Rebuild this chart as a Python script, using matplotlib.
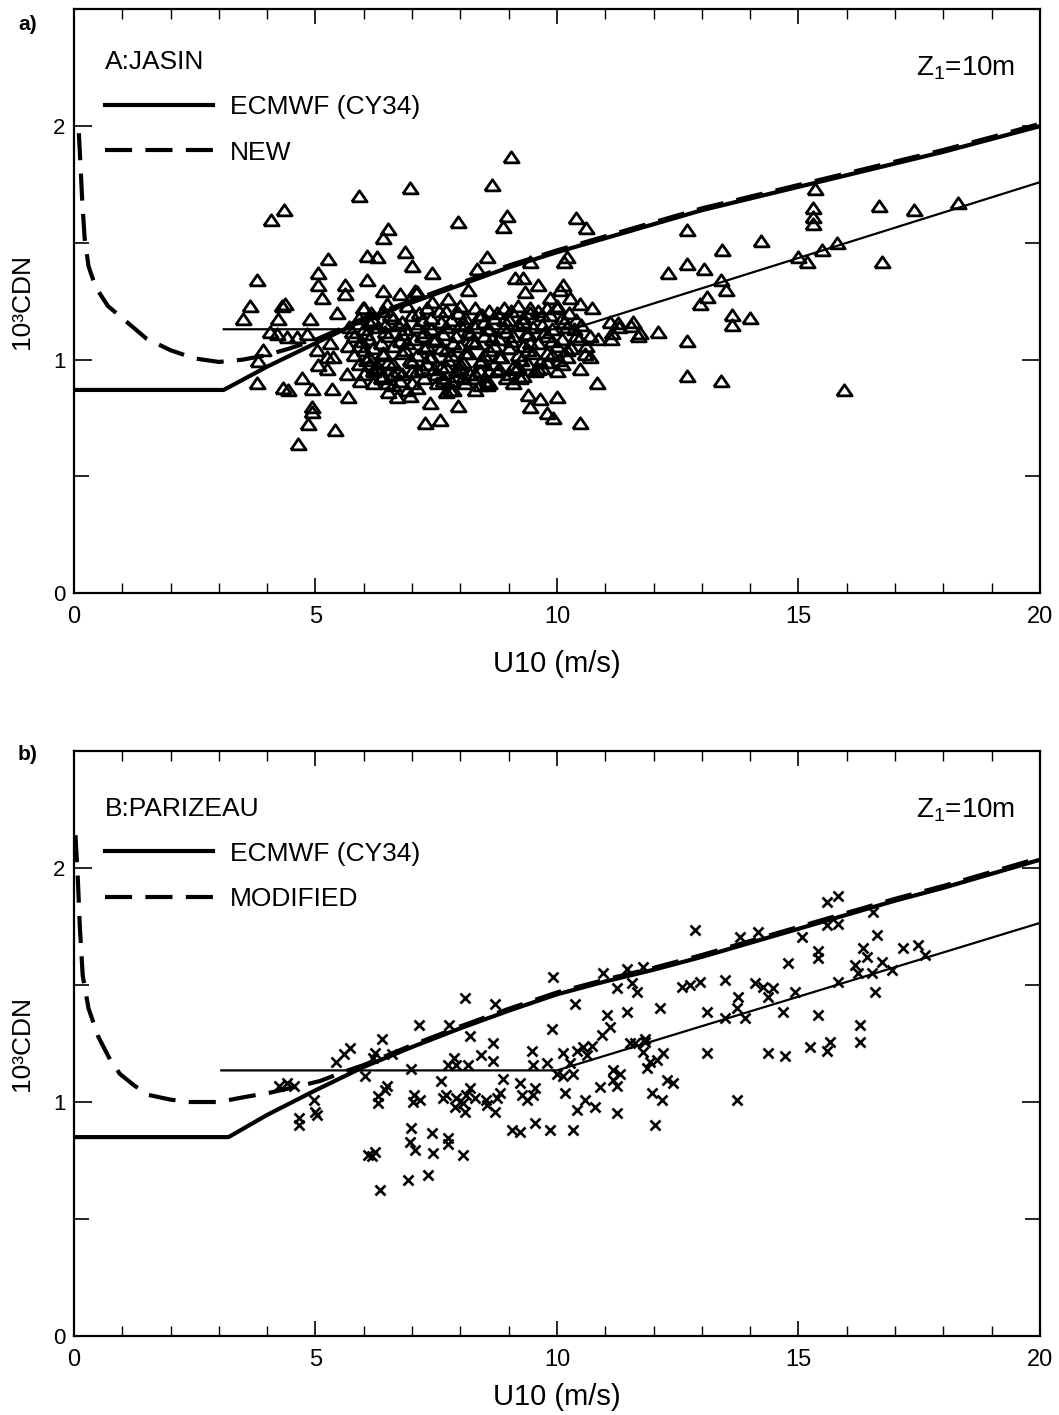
import matplotlib
matplotlib.use('Agg')
import matplotlib.pyplot as plt
from matplotlib.ticker import MultipleLocator, FixedLocator

plt.rcParams['font.family'] = ['Liberation Sans', 'DejaVu Sans']
plt.rcParams['mathtext.fontset'] = 'custom'
plt.rcParams['mathtext.rm'] = 'Liberation Sans'

# ---- panel a: JASIN ----
a_ecmwf_u = [0, 3.1, 4, 5, 6, 7, 8, 9, 10, 11, 12, 13, 14, 15, 16, 17, 18, 19, 20]
a_ecmwf_cd = [0.87, 0.87, 0.97, 1.07, 1.17, 1.245, 1.32, 1.395, 1.46, 1.52, 1.58,
              1.64, 1.69, 1.74, 1.79, 1.84, 1.89, 1.945, 2.0]
a_new_u = [0.1, 0.13, 0.17, 0.22, 0.3, 0.45, 0.7, 1.1, 1.5, 2.0, 2.5, 3.0, 3.5, 4.0,
           4.5, 5.0, 5.5, 6, 7, 8, 9, 10, 11, 12, 13, 14, 15, 16, 17, 18, 19, 20]
a_new_cd = [1.97, 1.85, 1.68, 1.52, 1.40, 1.31, 1.23, 1.16, 1.09, 1.04, 1.005, 0.99,
            1.0, 1.02, 1.05, 1.085, 1.13, 1.178, 1.253, 1.328, 1.403, 1.468, 1.528,
            1.588, 1.648, 1.698, 1.748, 1.798, 1.848, 1.898, 1.953, 2.01]
a_thin_u = [3.1, 10.3, 20]
a_thin_cd = [1.13, 1.13, 1.76]

a_obs_u = [
    4.08, 4.35, 5.9, 6.96, 7.95, 8.65, 9.04, 8.96, 8.88, 10.39, 10.6,
    6.5, 6.4, 5.26, 6.07, 6.27, 6.85, 7.0, 7.41, 3.79, 5.05, 5.05, 5.13, 5.61, 5.61,
    6.07, 6.4, 6.75, 7.06, 3.64, 4.31, 4.37, 4.22, 4.89, 5.44, 3.5, 4.06, 4.2, 4.41,
    4.62, 4.82, 5.03, 5.3, 5.24, 5.36, 5.67, 3.81, 3.91, 3.79, 4.33, 4.43, 4.72, 4.93,
    5.34, 5.67, 5.05, 5.24, 5.65, 4.93, 4.93, 4.84, 5.4, 4.64, 6.69, 6.96, 7.37, 7.27,
    6.48, 7.1, 7.52, 7.78, 5.92, 6.13, 7.64, 5.98, 6.48, 7.1, 7.41, 7.74,
    8.55, 8.34, 9.44, 10.2, 8.16, 12.3, 9.13, 9.3, 9.61, 9.34, 10.12, 10.06, 9.86,
    10.27, 10.48, 10.72, 9.44, 9.8, 10.0, 11.1, 11.26, 11.57, 11.14, 11.72, 12.09,
    10.85, 10.68, 10.58, 10.68, 10.48, 10.83, 9.69, 9.23, 8.26, 8.55, 7.85, 9.44,
    9.65, 10.0, 9.79, 9.92, 10.48, 7.58, 7.95, 9.4, 8.6, 10.14,
    12.69, 14.22, 13.42, 12.69, 13.04, 13.4, 13.5, 12.96, 13.1, 13.62, 13.62, 14.0,
    11.28, 11.53, 11.68, 11.12, 12.69, 12.69, 13.4, 15.94, 15.3, 15.3, 15.3, 15.34,
    16.67, 17.39, 18.3, 14.99, 15.18, 15.49, 15.8, 16.73,
    # dense cluster
    6.0, 6.4, 6.9, 7.3, 7.7, 8.0, 8.3, 8.6, 8.9, 9.2, 9.6, 10.0,
    5.9, 6.2, 6.6, 7.0, 7.4, 7.8, 8.1, 8.4, 8.7, 9.0, 9.3, 9.7, 10.1, 10.4,
    5.7, 6.0, 6.3, 6.7, 7.1, 7.4, 7.7, 8.0, 8.3, 8.6, 8.9, 9.2, 9.5, 9.9, 10.2, 10.5,
    5.8, 6.1, 6.5, 6.8, 7.2, 7.5, 7.9, 8.2, 8.5, 8.8, 9.1, 9.4, 9.8, 10.1, 10.4,
    5.9, 6.2, 6.6, 6.9, 7.3, 7.6, 8.0, 8.3, 8.7, 9.0, 9.3, 9.6, 10.0, 10.3, 10.6,
    5.8, 6.1, 6.4, 6.8, 7.1, 7.4, 7.8, 8.1, 8.5, 8.8, 9.2, 9.5, 9.9, 10.2,
    5.9, 6.3, 6.6, 7.0, 7.3, 7.7, 8.0, 8.4, 8.7, 9.1, 9.4, 9.8, 10.1,
    6.0, 6.4, 6.8, 7.1, 7.5, 7.9, 8.2, 8.6, 9.0, 9.3,
    6.2, 6.6, 7.0, 7.8, 8.1, 8.4, 9.1,
    6.5, 6.9, 7.7, 8.3,
    6.15, 6.55, 7.15, 7.55, 7.95, 8.45, 8.75, 9.05, 9.45, 9.85, 10.25,
    5.75, 6.05, 6.45, 6.85, 7.25, 7.65, 8.15, 8.55, 8.95, 9.35, 9.75, 10.35,
    5.95, 6.35, 6.75, 7.05, 7.45, 7.85, 8.25, 8.65, 9.05, 9.45, 9.9, 10.45,
    6.05, 6.5, 6.95, 7.35, 7.75, 8.05, 8.45, 8.85, 9.25, 9.65, 10.05,
    6.25, 6.7, 7.2, 7.6, 8.0, 8.4, 8.8, 9.2, 9.6, 10.0,
    6.35, 6.75, 7.25, 7.65, 8.05, 8.55, 8.95,
    6.1, 6.45, 6.8, 7.2, 7.6, 8.1, 8.5, 8.9, 9.3, 9.7, 10.15,
    6.0, 6.4, 6.85, 7.25, 7.7, 8.15, 8.6, 9.0, 9.4, 9.8, 10.2,
    6.2, 6.6, 7.0, 7.45, 7.9, 8.3, 8.75, 9.15, 9.55,
]
a_obs_cd = [
    1.60, 1.64, 1.70, 1.735, 1.59, 1.75, 1.87, 1.615, 1.57, 1.605, 1.565,
    1.56, 1.52, 1.43, 1.445, 1.44, 1.46, 1.40, 1.37, 1.34, 1.37, 1.32, 1.265, 1.32, 1.28,
    1.34, 1.295, 1.28, 1.295, 1.23, 1.23, 1.24, 1.175, 1.175, 1.20, 1.175, 1.12, 1.11, 1.095,
    1.095, 1.11, 1.04, 1.07, 1.01, 1.01, 1.06, 0.995, 1.04, 0.90, 0.88, 0.87, 0.92, 0.875,
    0.875, 0.84, 0.975, 0.96, 0.94, 0.795, 0.775, 0.725, 0.70, 0.64, 0.84, 0.845, 0.815, 0.73,
    0.90, 0.88, 0.90, 0.87, 0.91, 0.98, 0.92, 1.22, 1.24, 1.29, 1.245, 1.26,
    1.44, 1.39, 1.42, 1.44, 1.30, 1.37, 1.35, 1.35, 1.32, 1.29, 1.32, 1.30, 1.265,
    1.265, 1.24, 1.22, 1.22, 1.22, 1.23, 1.16, 1.155, 1.16, 1.115, 1.115, 1.12,
    1.09, 1.10, 1.025, 1.01, 0.96, 0.90, 0.966, 0.92, 0.92, 0.89, 0.87, 0.795,
    0.83, 0.84, 0.77, 0.75, 0.73, 0.74, 0.80, 0.85, 0.90, 1.42,
    1.555, 1.51, 1.47, 1.41, 1.39, 1.34, 1.30, 1.24, 1.27, 1.19, 1.15, 1.18,
    1.14, 1.145, 1.10, 1.09, 1.08, 0.93, 0.91, 0.87, 1.65, 1.61, 1.58, 1.73,
    1.66, 1.64, 1.67, 1.44, 1.42, 1.47, 1.50, 1.42,
    # dense cluster
    1.22, 1.21, 1.23, 1.22, 1.21, 1.23, 1.22, 1.21, 1.22, 1.23, 1.21, 1.22,
    1.18, 1.17, 1.18, 1.19, 1.18, 1.17, 1.18, 1.19, 1.18, 1.17, 1.18, 1.19, 1.18, 1.17,
    1.14, 1.13, 1.14, 1.15, 1.14, 1.13, 1.14, 1.15, 1.14, 1.13, 1.14, 1.15, 1.14, 1.13, 1.14, 1.15,
    1.10, 1.09, 1.10, 1.11, 1.10, 1.09, 1.10, 1.11, 1.10, 1.09, 1.10, 1.11, 1.10, 1.09, 1.10,
    1.06, 1.05, 1.06, 1.07, 1.06, 1.05, 1.06, 1.07, 1.06, 1.05, 1.06, 1.07, 1.06, 1.05, 1.06,
    1.02, 1.01, 1.02, 1.03, 1.02, 1.01, 1.02, 1.03, 1.02, 1.01, 1.02, 1.03, 1.02, 1.01,
    0.98, 0.97, 0.98, 0.99, 0.98, 0.97, 0.98, 0.99, 0.98, 0.97, 0.98, 0.99, 0.98,
    0.94, 0.93, 0.94, 0.95, 0.94, 0.93, 0.94, 0.95, 0.94, 0.93,
    0.90, 0.89, 0.90, 0.91, 0.90, 0.89, 0.90,
    0.86, 0.87, 0.86, 0.87,
    1.20, 1.19, 1.20, 1.21, 1.20, 1.19, 1.20, 1.21, 1.20, 1.19, 1.20,
    1.12, 1.11, 1.12, 1.13, 1.12, 1.11, 1.12, 1.13, 1.12, 1.11, 1.12, 1.13,
    1.08, 1.07, 1.08, 1.09, 1.08, 1.07, 1.08, 1.09, 1.08, 1.07, 1.08, 1.09,
    1.00, 0.99, 1.00, 1.01, 1.00, 0.99, 1.00, 1.01, 1.00, 0.99, 1.00,
    0.96, 0.95, 0.96, 0.97, 0.96, 0.95, 0.96, 0.97, 0.96, 0.95,
    0.92, 0.91, 0.92, 0.91, 0.92, 0.91, 0.92,
    1.16, 1.15, 1.16, 1.17, 1.16, 1.15, 1.16, 1.17, 1.16, 1.15, 1.16,
    1.04, 1.03, 1.04, 1.05, 1.04, 1.03, 1.04, 1.05, 1.04, 1.03, 1.04,
    0.95, 0.94, 0.95, 0.96, 0.95, 0.94, 0.95, 0.96, 0.95,
]

# ---- panel b: PARIZEAU ----
b_ecmwf_u = [0, 3.2, 4, 5, 6, 7, 8, 9, 10, 11, 12, 13, 14, 15, 16, 17, 18, 19, 20]
b_ecmwf_cd = [0.85, 0.85, 0.945, 1.05, 1.15, 1.235, 1.315, 1.39, 1.46, 1.515, 1.565,
              1.62, 1.68, 1.74, 1.80, 1.86, 1.915, 1.975, 2.035]
b_mod_u = [0.03, 0.08, 0.12, 0.18, 0.3, 0.5, 0.75, 0.95, 1.25, 1.55, 2.0, 2.4, 3.0, 3.5,
           4.06, 4.6, 5.1, 5.6, 6, 7, 8, 9, 10, 11, 12, 13, 14, 15, 16, 17, 18, 19, 20]
b_mod_cd = [2.14, 1.95, 1.75, 1.54, 1.40, 1.28, 1.18, 1.12, 1.07, 1.03, 1.01, 1.0, 1.0,
            1.02, 1.04, 1.065, 1.09, 1.13, 1.158, 1.243, 1.323, 1.398, 1.468, 1.523,
            1.573, 1.628, 1.688, 1.748, 1.808, 1.868, 1.923, 1.983, 2.043]
b_thin_u = [3.05, 10.0, 20]
b_thin_cd = [1.135, 1.135, 1.765]

b_obs_u = [
    8.1, 8.72, 7.14, 7.76, 6.38, 8.2, 8.68, 5.43, 5.6, 6.19, 6.58, 6.97, 7.87, 7.91, 8.16,
    8.43, 8.68, 4.24, 4.41, 4.55, 6.02, 6.44, 7.6, 8.2, 8.88, 6.3, 7.04, 7.7, 7.91, 8.05,
    8.12, 8.53, 8.76, 9.28, 4.97, 5.0, 4.66, 4.66, 6.97, 6.17, 7.74, 9.23,
    9.92, 10.95, 11.45, 11.78, 11.55, 11.66, 11.24, 10.37, 12.13, 11.45, 11.03, 11.1,
    10.93, 9.9, 5.71, 6.23, 7.74, 9.48, 9.79, 9.5, 10.12, 10.41, 10.54, 10.72, 10.62,
    10.27, 10.0, 10.12, 10.33, 11.16, 11.3, 11.86, 11.92, 12.07, 12.2, 11.78, 11.82,
    11.51, 12.4, 11.97, 12.17, 11.16, 11.24, 10.89, 10.79, 10.58, 10.41, 10.17, 9.23,
    9.55, 9.5, 9.38, 8.82, 8.55, 8.72, 8.3, 8.1, 7.89, 7.64, 7.16, 7.02, 6.48, 6.29,
    5.03, 9.07, 9.55, 9.86, 10.33, 12.03, 11.24, 7.41, 6.96, 7.06, 7.43, 7.74, 8.05,
    6.09, 6.23, 6.92, 7.33, 6.34,
    15.6, 15.82, 12.86, 13.79, 14.16, 15.07, 15.59, 15.82, 16.54, 16.62, 16.34, 17.16,
    17.47, 17.62, 15.4, 15.4, 14.78, 16.17, 16.42, 16.73, 16.94, 16.23, 16.52, 16.58,
    15.82, 13.48, 12.96, 12.59, 12.75, 14.1, 14.27, 14.47, 14.37, 13.75, 14.93, 13.1,
    13.73, 13.9, 14.68, 15.4, 13.48, 11.82, 11.61, 13.1, 13.73, 14.37, 14.72, 15.24,
    15.59, 15.65, 16.27, 16.27, 12.27,
]
b_obs_cd = [
    1.445, 1.42, 1.33, 1.33, 1.27, 1.28, 1.25, 1.17, 1.205, 1.19, 1.205, 1.14, 1.19, 1.16, 1.16,
    1.20, 1.175, 1.07, 1.08, 1.07, 1.11, 1.05, 1.09, 1.06, 1.10, 1.025, 1.03, 1.03, 1.017, 0.996,
    1.03, 1.01, 1.017, 1.03, 1.01, 0.957, 0.93, 0.90, 0.89, 0.77, 0.82, 0.87,
    1.535, 1.55, 1.57, 1.577, 1.51, 1.47, 1.487, 1.42, 1.40, 1.385, 1.37, 1.32,
    1.285, 1.31, 1.23, 1.21, 1.16, 1.22, 1.167, 1.16, 1.21, 1.22, 1.235, 1.24, 1.20,
    1.167, 1.12, 1.11, 1.12, 1.137, 1.12, 1.145, 1.17, 1.18, 1.21, 1.215, 1.256,
    1.25, 1.08, 1.04, 1.008, 1.094, 1.07, 1.065, 0.98, 1.008, 0.966, 1.04, 1.08,
    1.06, 1.03, 1.008, 1.04, 0.987, 0.957, 1.017, 0.957, 0.98, 1.017, 1.008, 1.0, 1.07, 0.996,
    0.944, 0.88, 0.91, 0.88, 0.88, 0.90, 0.953, 0.867, 0.83, 0.795, 0.78, 0.845, 0.773,
    0.773, 0.786, 0.667, 0.688, 0.624,
    1.855, 1.88, 1.735, 1.705, 1.726, 1.705, 1.756, 1.76, 1.81, 1.714, 1.66, 1.657,
    1.67, 1.63, 1.644, 1.615, 1.594, 1.585, 1.62, 1.6, 1.565, 1.55, 1.55, 1.47,
    1.513, 1.52, 1.513, 1.49, 1.50, 1.51, 1.49, 1.487, 1.45, 1.45, 1.47, 1.385,
    1.40, 1.36, 1.385, 1.372, 1.36, 1.27, 1.25, 1.21, 1.008, 1.21, 1.197, 1.235,
    1.22, 1.256, 1.33, 1.256, 1.094,
]

x_ticks = [0, 5, 10, 15, 20]
y_ticks = [0, 1, 2]

# flattened open triangle like the original plotting symbol
tri = [(-1.0, -0.7), (1.0, -0.7), (0.0, 0.75), (-1.0, -0.7)]


def style_axes(ax, xpad):
    ax.set_xlim(0, 20)
    ax.set_ylim(0, 2.5)
    ax.xaxis.set_major_locator(FixedLocator(x_ticks))
    ax.xaxis.set_minor_locator(MultipleLocator(1))
    ax.yaxis.set_major_locator(FixedLocator(y_ticks))
    ax.yaxis.set_minor_locator(FixedLocator([0.5, 1.5]))
    ax.tick_params(axis='x', which='major', direction='in', top=True, length=11,
                   width=1.2, labelsize=17, pad=9)
    ax.tick_params(axis='x', which='minor', direction='in', top=True, length=7, width=1.0)
    ax.tick_params(axis='y', which='major', direction='in', right=True, length=13,
                   width=1.2, labelsize=16, pad=6)
    ax.tick_params(axis='y', which='minor', direction='in', right=True, length=11, width=1.2)
    for s in ax.spines.values():
        s.set_linewidth(1.6)
    ax.set_xlabel('U10 (m/s)', fontsize=21, labelpad=xpad)
    ax.set_ylabel('10³CDN', fontsize=19, labelpad=14)
    ax.text(0.974, 0.899, 'Z$_\\mathrm{1}$=10m', transform=ax.transAxes,
            ha='right', va='center', fontsize=20)


def add_legend(ax, handles, title, top):
    ax.legend(handles=handles, title=title, loc='upper left',
              bbox_to_anchor=(0.032, top), frameon=False, fontsize=19,
              title_fontsize=19, handlelength=4.1, handletextpad=0.65,
              labelspacing=0.8, borderpad=0, borderaxespad=0, alignment='left')


fig = plt.figure(figsize=(10.59, 14.15), dpi=100)

ax1 = fig.add_axes([0.0699, 0.5809, 0.912, 0.4124])
ax1.plot(a_obs_u, a_obs_cd, ls='none', marker=tri, ms=11, mfc='none', mec='black',
         mew=2.0)
ax1.plot(a_thin_u, a_thin_cd, color='black', lw=1.6)
l1, = ax1.plot(a_ecmwf_u, a_ecmwf_cd, color='black', lw=3.0, label='ECMWF (CY34)')
l2, = ax1.plot(a_new_u, a_new_cd, color='black', lw=3.0, dashes=(6.5, 3.2), label='NEW')
style_axes(ax1, 16)
add_legend(ax1, [l1, l2], 'A:JASIN', 0.93)

ax2 = fig.add_axes([0.0699, 0.0558, 0.912, 0.4135])
ax2.plot(b_obs_u, b_obs_cd, ls='none', marker='x', ms=7.5, mec='black', mew=1.9)
ax2.plot(b_thin_u, b_thin_cd, color='black', lw=1.6)
m1, = ax2.plot(b_ecmwf_u, b_ecmwf_cd, color='black', lw=3.0, label='ECMWF (CY34)')
m2, = ax2.plot(b_mod_u, b_mod_cd, color='black', lw=3.0, dashes=(6.5, 3.2),
               label='MODIFIED')
style_axes(ax2, 9)
add_legend(ax2, [m1, m2], 'B:PARIZEAU', 0.922)

fig.text(0.017, 1 - 25 / 1415, 'a)', fontsize=15, fontweight='bold', va='center')
fig.text(0.017, 1 - 755 / 1415, 'b)', fontsize=15, fontweight='bold', va='center')

fig.savefig('out.png', dpi=100)
